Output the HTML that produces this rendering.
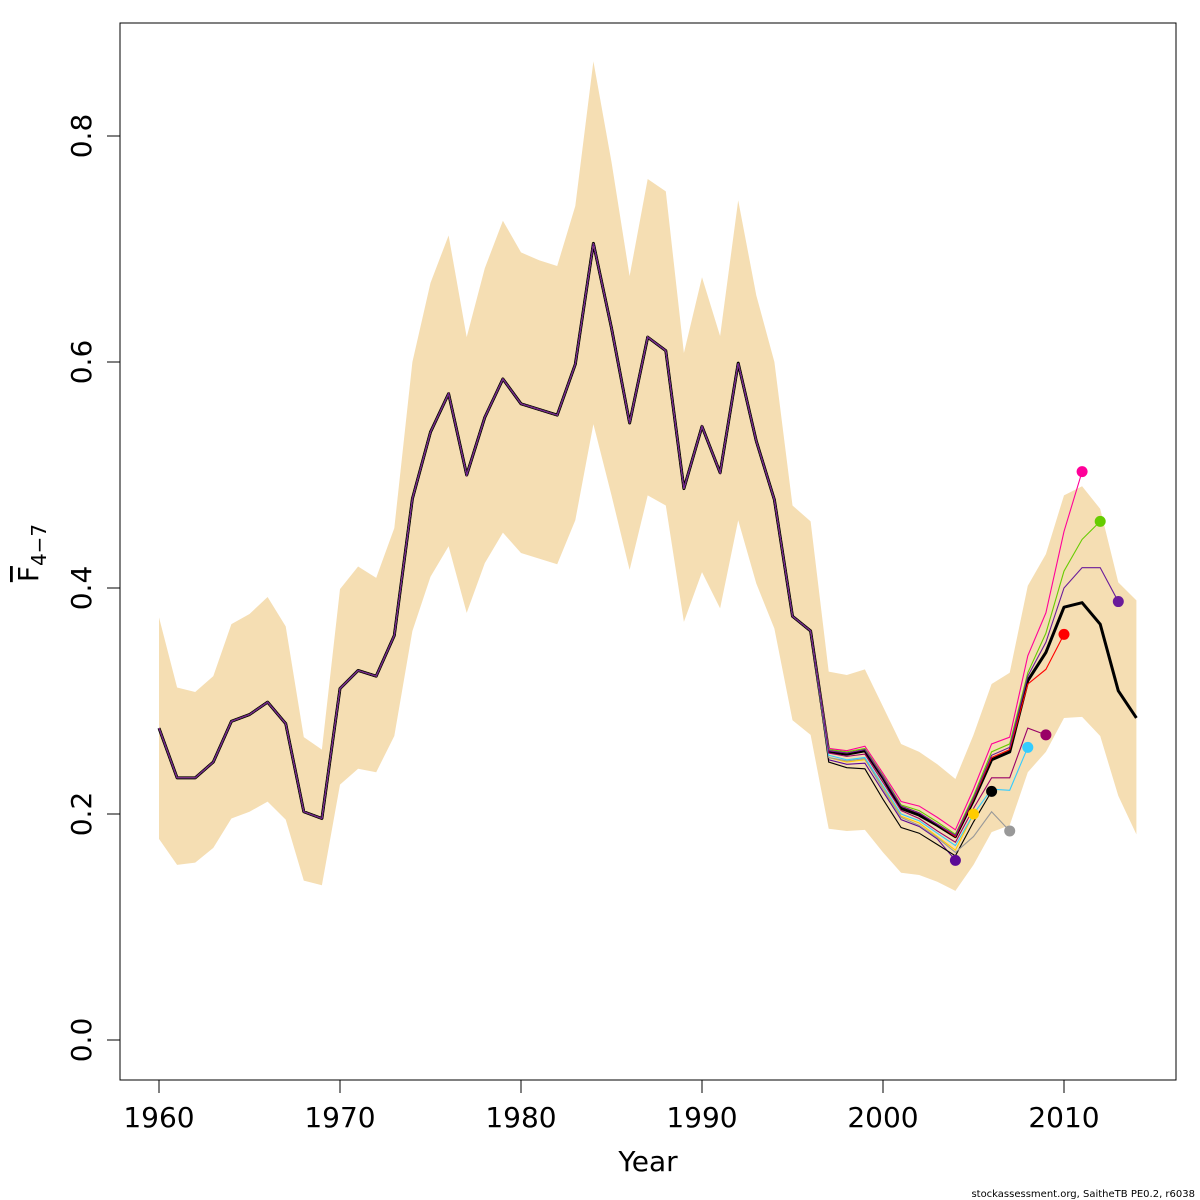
<!DOCTYPE html>
<html><head><meta charset="utf-8"><style>
html,body{margin:0;padding:0;background:#fff;}
svg{display:block;font-family:"DejaVu Sans","Liberation Sans",sans-serif;}
</style></head><body>
<svg id="chart" width="1200" height="1200" viewBox="0 0 1200 1200" xmlns="http://www.w3.org/2000/svg">
<rect x="0" y="0" width="1200" height="1200" fill="#fff"/>
<g id="band"></g>
<g id="main"></g>
<g id="peels"></g>
<g id="dots"></g>
<rect x="120" y="23" width="1056" height="1057" fill="none" stroke="#000" stroke-width="1"/>
<g id="xaxis"></g>
<g id="yaxis"></g>
<text x="648" y="1171" font-size="28" text-anchor="middle">Year</text>
<g transform="translate(38,553) rotate(-90)">
<text x="0" y="0" font-size="28" text-anchor="middle"><tspan text-decoration="overline">F</tspan><tspan font-size="20" dy="8">4−7</tspan></text>
</g>
<text x="1195" y="1197" font-size="10" text-anchor="end">stockassessment.org, SaitheTB  PE0.2, r6038</text>
</svg>
<script>
const years=[];for(let y=1960;y<=2014;y++)years.push(y);
const mainF=[0.276,0.232,0.232,0.246,0.282,0.288,0.299,0.280,0.202,0.196,0.311,0.327,0.322,0.358,0.479,0.538,0.572,0.500,0.551,0.585,0.563,0.558,0.553,0.598,0.705,0.630,0.546,0.622,0.610,0.488,0.543,0.502,0.599,0.530,0.478,0.375,0.362,0.255,0.253,0.256,0.232,0.205,0.199,0.190,0.180,0.212,0.248,0.255,0.318,0.343,0.383,0.387,0.368,0.309,0.285];
const upperF=[0.374,0.312,0.308,0.322,0.368,0.377,0.392,0.366,0.268,0.257,0.399,0.419,0.409,0.453,0.600,0.670,0.712,0.622,0.683,0.725,0.697,0.690,0.685,0.738,0.866,0.777,0.676,0.762,0.751,0.608,0.675,0.623,0.743,0.659,0.600,0.473,0.459,0.326,0.323,0.328,0.295,0.262,0.255,0.244,0.231,0.270,0.315,0.325,0.402,0.430,0.482,0.490,0.470,0.405,0.389];
const lowerF=[0.178,0.155,0.157,0.170,0.196,0.202,0.211,0.195,0.141,0.137,0.226,0.240,0.237,0.269,0.362,0.410,0.437,0.378,0.422,0.449,0.431,0.426,0.421,0.460,0.545,0.482,0.416,0.482,0.473,0.370,0.414,0.382,0.460,0.404,0.364,0.283,0.270,0.187,0.185,0.186,0.166,0.148,0.146,0.140,0.132,0.155,0.184,0.190,0.237,0.255,0.285,0.286,0.269,0.216,0.182];
const peelStart=1997;
const peelEnds=[2004,2005,2006,2007,2008,2009,2010,2011,2012,2013];
const peelColors=["#5c0a96","#ffcc00","#000000","#999999","#33ccff","#990066","#ff0000","#ff0099","#66cc00","#6a1b9a"];
const peelTails=[
[0.248,0.244,0.245,0.220,0.195,0.189,0.178,0.159],
[0.250,0.246,0.248,0.224,0.198,0.192,0.180,0.168,0.200],
[0.246,0.241,0.240,0.213,0.188,0.183,0.173,0.163,0.193,0.220],
[0.250,0.247,0.249,0.222,0.197,0.190,0.179,0.166,0.180,0.202,0.185],
[0.252,0.248,0.250,0.225,0.200,0.194,0.183,0.172,0.200,0.222,0.221,0.259],
[0.254,0.251,0.253,0.228,0.203,0.196,0.185,0.175,0.205,0.232,0.232,0.276,0.270],
[0.256,0.254,0.257,0.233,0.207,0.201,0.191,0.180,0.213,0.250,0.257,0.315,0.328,0.359],
[0.258,0.256,0.260,0.236,0.211,0.207,0.197,0.186,0.222,0.262,0.268,0.340,0.378,0.450,0.503],
[0.257,0.255,0.258,0.234,0.208,0.203,0.193,0.182,0.216,0.255,0.262,0.325,0.360,0.415,0.443,0.459],
[0.256,0.254,0.257,0.233,0.207,0.201,0.191,0.181,0.214,0.252,0.259,0.322,0.352,0.400,0.418,0.418,0.388]];
const xTicks=[1960,1970,1980,1990,2000,2010];
const yTicks=[0.0,0.2,0.4,0.6,0.8];
const yTickLabels=["0.0","0.2","0.4","0.6","0.8"];

const NS="http://www.w3.org/2000/svg";
const xs=y=>159+(y-1960)*(1064-159)/50;
const ys=v=>1040-v*(1040-136)/0.8;
function mk(tag,parent){const e=document.createElementNS(NS,tag);document.getElementById(parent).appendChild(e);return e;}

let pts=years.map((y,i)=>xs(y)+","+ys(upperF[i]));
for(let i=years.length-1;i>=0;i--)pts.push(xs(years[i])+","+ys(lowerF[i]));
const band=mk("polygon","band");


band.setAttribute("points",pts.join(" "));band.setAttribute("fill","#f5deb3");

const m=mk("polyline","main");


m.setAttribute("points",years.map((y,i)=>xs(y)+","+ys(mainF[i])).join(" "));
m.setAttribute("fill","none");m.setAttribute("stroke","#000");m.setAttribute("stroke-width","3");m.setAttribute("stroke-linejoin","round");

peelEnds.forEach((end,k)=>{
  const p=[];
  years.forEach((y,i)=>{
    if(y>end)return;
    const v=y<peelStart?mainF[i]:peelTails[k][y-peelStart];
    p.push(xs(y)+","+ys(v));
  });
  const l=mk("polyline","peels");
  
  
  l.setAttribute("points",p.join(" "));l.setAttribute("fill","none");
  l.setAttribute("stroke",peelColors[k]);l.setAttribute("stroke-width","1.1");
  const c=mk("circle","dots");
  
  
  c.setAttribute("cx",xs(end));c.setAttribute("cy",ys(peelTails[k][end-peelStart]));
  c.setAttribute("r","5.5");c.setAttribute("fill",peelColors[k]);
});

const xl=mk("line","xaxis");


xl.setAttribute("x1",xs(1960));xl.setAttribute("x2",xs(2010));xl.setAttribute("y1",1080);xl.setAttribute("y2",1080);xl.setAttribute("stroke","#000");
xTicks.forEach(t=>{
  const l=mk("line","xaxis");
  
  
  l.setAttribute("x1",xs(t));l.setAttribute("x2",xs(t));l.setAttribute("y1",1080);l.setAttribute("y2",1093);l.setAttribute("stroke","#000");
  const tx=mk("text","xaxis");
  
  
  tx.setAttribute("x",xs(t));tx.setAttribute("y",1127);tx.setAttribute("font-size","28");tx.setAttribute("text-anchor","middle");
  tx.textContent=t;
});
const yl=mk("line","yaxis");


yl.setAttribute("x1",120);yl.setAttribute("x2",120);yl.setAttribute("y1",ys(0));yl.setAttribute("y2",ys(0.8));yl.setAttribute("stroke","#000");
yTicks.forEach((t,i)=>{
  const l=mk("line","yaxis");
  
  
  l.setAttribute("x1",107);l.setAttribute("x2",120);l.setAttribute("y1",ys(t));l.setAttribute("y2",ys(t));l.setAttribute("stroke","#000");
  const tx=mk("text","yaxis");
  
  
  tx.setAttribute("transform","translate(91,"+ys(t)+") rotate(-90)");
  tx.setAttribute("font-size","28");tx.setAttribute("text-anchor","middle");
  tx.textContent=yTickLabels[i];
});
</script>
</body></html>
